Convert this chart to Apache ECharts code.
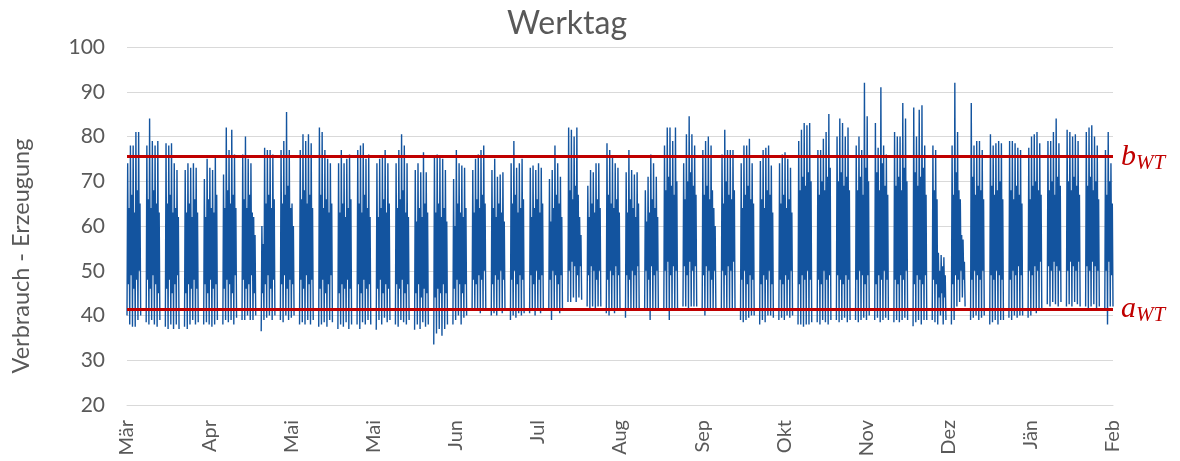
<!DOCTYPE html>
<html>
<head>
<meta charset="utf-8">
<script src="https://cdn.jsdelivr.net/npm/echarts@6/dist/echarts.min.js"></script>
<style>
  html, body { margin: 0; background: #fff; }
  #chart { width: 1180px; height: 461px; }
</style>
</head>
<body>
<div id="chart"></div>
<script>
// Tageshöchst- und Tiefstwerte je Arbeitswoche (Mo-Fr)
var weekPeaks = [
  [74, 78, 78, 81, 81], [78, 84, 79, 78, 79], [78.5, 78, 78.5, 74, 72.5], [72.5, 74, 73, 74, 73],
  [70.5, 75, 73, 72.5, 75.5], [71.5, 82, 77, 81.5, 76], [76, 80, 75, 74, 62], [60, 77.5, 77, 77, 76],
  [77, 79, 85.5, 77, 65], [77, 80.5, 79, 80.5, 78.5], [82, 81, 77, 75, 74], [74, 77, 74, 75, 76],
  [77, 78, 78.5, 75, 76], [74, 75, 75.5, 77, 74], [74, 77, 80.5, 78, 74], [72.5, 74, 72, 76.5, 72],
  [75.5, 76, 75.5, 75, 72.5], [70.5, 77, 74, 73.5, 73], [72.5, 75, 76, 77, 78], [72.5, 75, 71, 71.5, 72],
  [74, 79, 73, 74, 75], [73, 73.5, 72.5, 74, 73], [70.5, 72.5, 78, 74, 71], [82, 81.5, 80, 82, 62],
  [69, 72.5, 72, 74, 74], [78.5, 77, 75.5, 74, 73], [72, 77, 72.5, 71.5, 72], [68, 71, 76, 74, 71],
  [78, 82, 82, 79, 82], [74, 80.5, 84.5, 80.5, 78], [77, 79, 80, 78, 64], [76, 81.5, 77, 77, 77],
  [74, 78, 78, 79.5, 74], [74.5, 77, 77.5, 78, 73.5], [74, 76, 76.5, 75, 73], [79, 81.5, 83, 82.5, 83],
  [77, 77, 79.5, 81, 85], [80, 84, 83, 80, 82], [78, 80, 77, 92, 84.5], [83, 77.5, 91, 78, 76],
  [81, 80, 80, 87.5, 84], [86.5, 80, 86, 87, 78], [78, 77, 54, 53.5, 53], [78, 92, 81, 66, 57],
  [87.5, 78, 79, 79, 77], [80.5, 78, 78.5, 79, 78.5], [79, 79, 78.5, 77.5, 77], [77.5, 80, 80.5, 81, 78.5],
  [79, 79, 81, 84, 78.5], [81.5, 81, 80, 80.5, 79], [81, 82, 82.5, 80, 78], [77, 81, 74]
];
var weekLows = [
  [40, 38, 37.5, 37.5, 39, 40], [38.5, 38, 39, 38, 37.5, 39], [37.5, 37, 38, 37, 38, 37], [37.5, 37, 38, 39, 38, 38.5],
  [38, 38.5, 38, 37.5, 38, 39], [38, 39, 38.5, 39, 38, 39.5], [39, 39, 40, 39, 39, 40], [36.5, 39, 39.5, 40, 39, 40],
  [39, 38.5, 40, 39, 39.5, 40], [38, 38.5, 38, 39, 38, 39], [37.5, 38, 38.5, 37.5, 39, 38.5], [37, 38, 37.5, 38.5, 37, 38],
  [38, 37, 38.5, 38, 39, 38], [36.8, 39, 38, 39.5, 38.5, 39], [38, 37.5, 39, 38.5, 38, 39], [36.8, 38, 37, 38.5, 37.5, 38],
  [33.5, 36, 37, 35.5, 37, 38], [38, 39, 40, 38, 39.5, 40], [41, 41.5, 41, 40.5, 41.5, 41], [40, 40.5, 40, 41, 40.5, 41],
  [39, 40, 39.5, 40.5, 40, 40.5], [40.5, 41, 40, 41, 40.5, 41], [41, 39, 41.5, 41, 40.5, 41], [43, 43, 44, 43, 44, 43.5],
  [42, 41.5, 42, 41.5, 42, 42], [40.5, 40, 41, 40.5, 41, 41], [39.5, 41, 41, 41.5, 41, 41.5], [41.5, 41.5, 39, 41, 41.5, 41],
  [41, 41, 39, 41, 41, 41.5], [42, 42, 41.5, 42, 42, 42], [41, 40, 41, 41, 41, 41.5], [41, 41.5, 41, 41, 41.5, 41],
  [39, 38.5, 39, 39.5, 40, 40], [38, 39, 38.5, 40, 40, 39.5], [39, 39.5, 39, 40, 39.5, 40], [38, 38, 37.5, 38, 38, 38.5],
  [38.5, 38, 39, 38.5, 38, 39], [39, 38.5, 39, 39.5, 38.5, 39], [39, 38.5, 39, 39.5, 39, 40], [39, 39.5, 38.5, 39, 39.5, 39],
  [38.5, 39, 38.5, 39, 39.5, 39], [37.6, 38.5, 39, 38, 39, 39], [39, 38.5, 38, 40, 38, 39], [38, 39, 42, 43, 44, 42],
  [39, 39.5, 40, 39, 39.5, 40], [38, 38.5, 39, 38, 39, 39], [39.5, 39, 40, 39.5, 40, 40], [39.5, 40, 41, 40.5, 41, 41],
  [42.5, 42, 43, 42.5, 42, 43], [42, 42.5, 42, 43, 42.5, 42], [42, 41.5, 42, 42.5, 41, 42], [41, 38, 42, 42]
];
// dunkles Kernband je Tag: obere und untere Kante (geschätzt)
var coreHigh = [
  [64, 67, 63, 68, 65], [66, 64, 68, 65, 63], [65, 67, 63, 64, 62], [63, 65, 62, 66, 63],
  [62, 66, 64, 63, 67], [64, 68, 65, 67, 64], [66, 64, 67, 63, 58], [56, 65, 67, 64, 66],
  [65, 67, 69, 64, 60], [66, 68, 65, 67, 64], [67, 64, 66, 63, 65], [63, 65, 62, 64, 66],
  [65, 63, 67, 64, 62], [62, 64, 66, 63, 65], [64, 66, 68, 63, 62], [61, 64, 62, 65, 63],
  [63, 65, 62, 64, 61], [60, 65, 63, 62, 64], [63, 66, 64, 67, 65], [64, 62, 65, 63, 61],
  [65, 67, 63, 64, 66], [62, 64, 66, 63, 65], [61, 64, 67, 65, 62], [68, 66, 69, 67, 58],
  [62, 65, 63, 66, 64], [67, 65, 64, 66, 63], [63, 66, 64, 62, 65], [61, 63, 66, 64, 62],
  [68, 71, 69, 67, 70], [66, 70, 72, 69, 67], [67, 69, 66, 68, 60], [65, 70, 67, 66, 68],
  [64, 67, 69, 66, 65], [66, 64, 68, 67, 63], [65, 67, 64, 66, 63], [68, 71, 69, 72, 70],
  [67, 70, 68, 71, 73], [70, 72, 69, 71, 68], [68, 71, 67, 73, 70], [72, 68, 74, 69, 67],
  [69, 71, 68, 73, 70], [72, 69, 71, 73, 67], [68, 66, 50, 51, 49], [67, 72, 68, 58, 52],
  [71, 67, 69, 68, 66], [69, 67, 68, 70, 66], [68, 66, 69, 67, 65], [66, 69, 70, 68, 67],
  [68, 70, 67, 71, 69], [70, 68, 71, 69, 67], [69, 71, 68, 70, 66], [67, 70, 65]
];
var coreLow = [
  [47, 49, 46, 48, 50], [48, 46, 49, 47, 45], [46, 48, 45, 47, 49], [45, 47, 46, 48, 46],
  [47, 45, 48, 46, 47], [46, 48, 47, 45, 49], [48, 46, 47, 49, 45], [45, 47, 49, 46, 48],
  [47, 49, 46, 48, 47], [48, 46, 49, 47, 48], [46, 48, 45, 47, 49], [45, 47, 46, 48, 46],
  [47, 45, 48, 46, 47], [46, 48, 45, 47, 46], [47, 46, 48, 45, 47], [45, 47, 44, 46, 45],
  [44, 46, 45, 47, 45], [46, 48, 47, 45, 47], [48, 47, 49, 48, 50], [47, 49, 48, 50, 48],
  [48, 50, 47, 49, 48], [49, 47, 50, 48, 49], [48, 50, 49, 47, 49], [50, 52, 51, 49, 51],
  [49, 51, 50, 48, 50], [48, 50, 49, 51, 49], [49, 48, 50, 49, 51], [50, 48, 51, 49, 50],
  [50, 52, 49, 51, 50], [51, 49, 52, 50, 51], [49, 51, 50, 48, 50], [50, 49, 51, 50, 52],
  [48, 50, 47, 49, 48], [47, 49, 48, 50, 47], [48, 47, 49, 48, 50], [47, 49, 48, 50, 48],
  [48, 47, 50, 48, 49], [49, 48, 47, 49, 48], [48, 50, 49, 47, 49], [47, 49, 48, 50, 48],
  [48, 47, 49, 48, 50], [47, 49, 48, 47, 49], [48, 47, 44, 45, 44], [47, 49, 48, 50, 48],
  [48, 50, 49, 48, 50], [49, 48, 50, 49, 48], [48, 50, 49, 51, 49], [50, 49, 51, 50, 52],
  [51, 50, 52, 51, 50], [50, 52, 51, 50, 52], [51, 50, 52, 51, 50], [50, 52, 49]
];
var monthTicks = ['Mär', 'Apr', 'Mai', 'Mai', 'Jun', 'Jul', 'Aug', 'Sep', 'Okt', 'Nov', 'Dez', 'Jän', 'Feb'];
var bWT = 75.5;
var aWT = 41.5;

// Vierteltage als Kategorien, Wochenende leer
var seriesData = [];
for (var w = 0; w < weekPeaks.length; w++) {
    var p = weekPeaks[w], l = weekLows[w];
    for (var d = 0; d < p.length; d++) {
        seriesData.push(l[d], p[d], coreLow[w][d], coreHigh[w][d]);
    }
    seriesData.push(l[p.length]);
    if (w < weekPeaks.length - 1) {
        for (var k = p.length * 4 + 1; k < 28; k++) seriesData.push(null);
    }
}
var cats = [];
for (var i = 0; i < seriesData.length; i++) cats.push(String(i));
var labelStep = (seriesData.length - 1) / (monthTicks.length - 1);

var myChart = echarts.init(document.getElementById('chart'));
var grey = '#595959';
var option = {
    animation: false,
    title: {
        text: 'Werktag',
        left: 562,
        textAlign: 'center',
        top: 3,
        textStyle: { fontFamily: 'Lato', fontSize: 32, fontWeight: 'normal', color: grey }
    },
    grid: { left: 127, right: 67, top: 47, bottom: 56 },
    xAxis: {
        type: 'category',
        data: cats,
        boundaryGap: false,
        axisLine: { lineStyle: { color: '#d9d9d9' } },
        axisTick: { show: false },
        axisLabel: {
            interval: labelStep - 1,
            rotate: 90,
            margin: 15,
            color: grey,
            fontFamily: 'Lato',
            fontSize: 20,
            formatter: function (v, idx) {
                return monthTicks[Math.round(idx / labelStep)];
            }
        }
    },
    yAxis: {
        type: 'value',
        min: 20,
        max: 100,
        interval: 10,
        name: 'Verbrauch - Erzeugung',
        nameLocation: 'middle',
        nameGap: 94,
        nameTextStyle: { fontFamily: 'Lato', fontSize: 23.5, color: grey, padding: [0, 60, 0, 0] },
        axisLine: { show: false },
        axisTick: { show: false },
        axisLabel: { margin: 22, color: grey, fontFamily: 'Lato', fontSize: 21 },
        splitLine: { lineStyle: { color: '#d9d9d9', width: 1 } }
    },
    series: [{
        type: 'line',
        data: seriesData,
        showSymbol: false,
        sampling: null,
        connectNulls: false,
        lineStyle: { width: 1.4, color: '#13549f' },
        markLine: {
            silent: true,
            symbol: 'none',
            lineStyle: { color: '#c00000', width: 3, type: 'solid' },
            label: {
                position: 'end',
                distance: 8,
                rich: {
                    v: { fontFamily: 'Liberation Serif', fontStyle: 'italic', fontSize: 30, color: '#c00000' },
                    s: { fontFamily: 'Liberation Serif', fontStyle: 'italic', fontSize: 21, color: '#c00000', padding: [14, 0, 0, 0] }
                }
            },
            data: [
                { yAxis: bWT, label: { formatter: '{v|b}{s|WT}' } },
                { yAxis: aWT, label: { formatter: '{v|a}{s|WT}' } }
            ]
        }
    }]
};
myChart.setOption(option);
</script>
</body>
</html>
